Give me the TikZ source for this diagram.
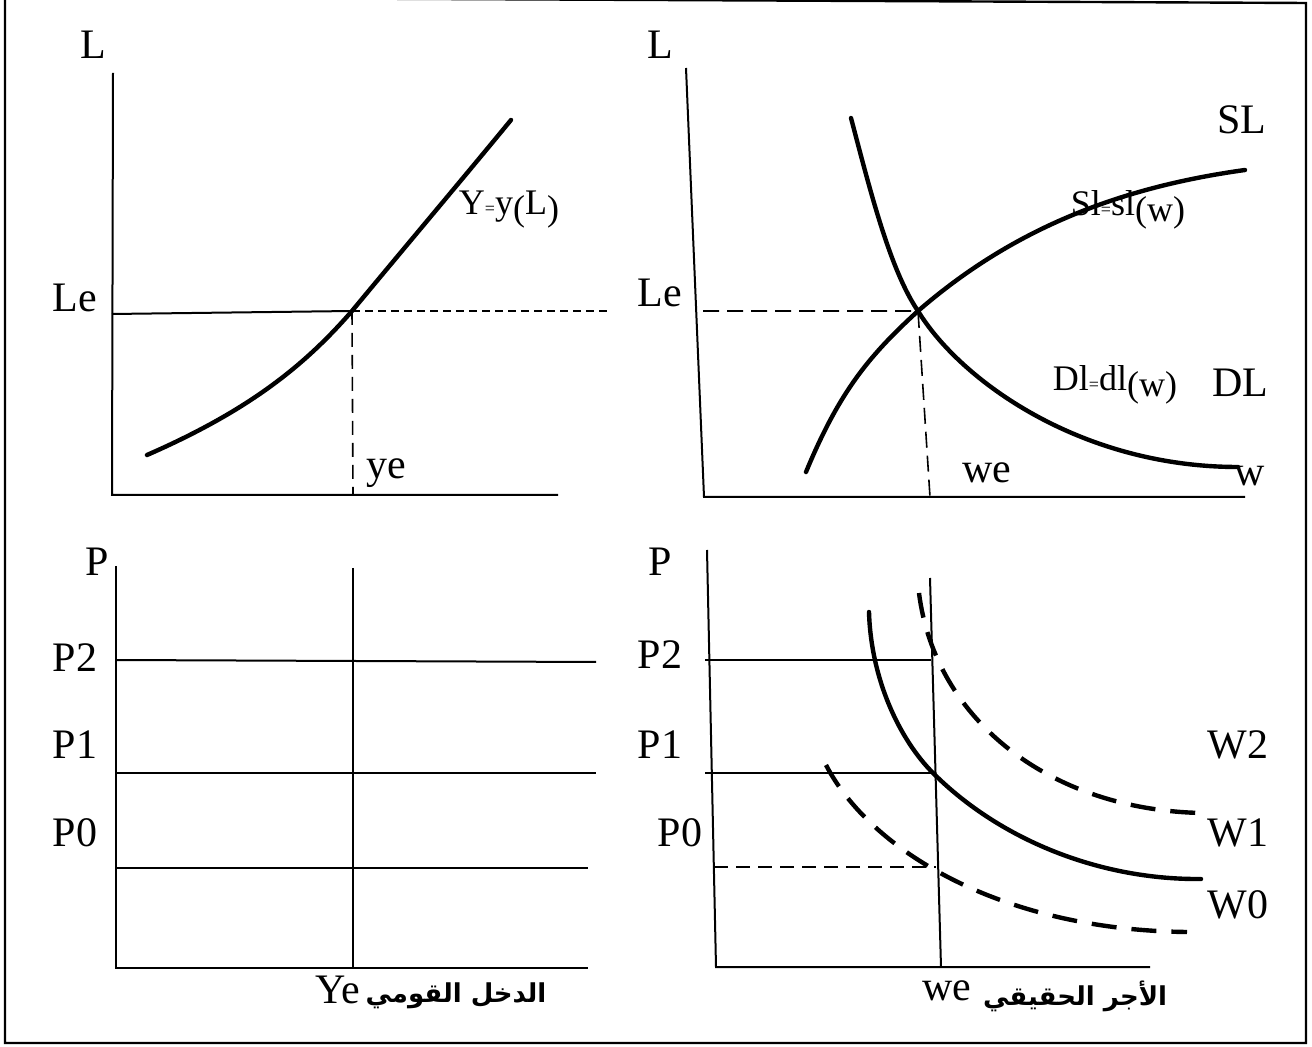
\documentclass[tikz,border=0pt]{standalone}
\usepackage{fontspec}
\setmainfont{Liberation Serif}
\newfontfamily\arabicfont[Script=Arabic]{DejaVu Sans}
\TeXXeTstate=1
\usetikzlibrary{positioning, calc}
\tikzset{
  % thin axis or price line
  axis/.style={line width=1pt},
  % thick curve
  curve/.style={line width=2.2pt, line cap=round},
  curve dashed/.style={line width=2.2pt, dash pattern=on 12.5pt off 7.5pt},
  % thin dashed guide
  guide/.style={line width=0.8pt, dash pattern=on #1},
  guide/.default={4pt off 2.5pt},
  lbl/.style={font=\fontsize{21}{24}\selectfont, inner sep=0pt},
  small lbl/.style={font=\fontsize{18}{20}\selectfont, inner sep=0pt},
  arab/.style={font=\arabicfont\bfseries\fontsize{13}{16}\selectfont, inner sep=0pt},
}
\newcommand{\lowpar}[1]{\raisebox{-3pt}{#1}}

\begin{document}
\begin{tikzpicture}[x=0.5pt, y=-0.5pt]
  \useasboundingbox (0,0) rectangle (1312,1047);
  % frame
  \draw[line width=1.2pt] (5,-3) -- (1306,3) -- (1306,1043) -- (5,1043) -- (5,-3);

  % top left: production
  \coordinate (tl-top) at (113,73);
  \coordinate (tl-o) at (112,495);
  \coordinate (tl-x) at (558,495);
  \coordinate (tl-E) at (352,311);
  \draw[axis] (tl-top) -- (tl-o) -- (tl-x);
  \draw[axis] (112,314) -- (tl-E);
  \draw[guide] (tl-E) -- (610,311);
  \draw[guide={7pt off 4pt}] (tl-E) -- (353,495);
  \draw[curve] (147,455) .. controls (250,410) and (305,365) .. (tl-E)
    .. controls (400,253) and (460,182) .. (511,120);
  \node[lbl] (tl-L) at (93,45) {L};
  \node[lbl] (tl-Le) at (75,298) {Le};
  \node[lbl] (tl-ye) at (386,473) {ye};
  \node[small lbl] (tl-Y) at (509,210) {Y{\small=}y\lowpar{(}L\lowpar{)}};

  % top right: labour market
  \coordinate (tr-top) at (686,68);
  \coordinate (tr-o) at (704,497);
  \coordinate (tr-x) at (1245,497);
  \coordinate (tr-E) at (918,311);
  \draw[axis] (tr-top) -- (tr-o) -- (tr-x);
  \draw[guide={8pt off 4pt}] (703,311) -- (tr-E) -- (930,497);
  \draw[curve] (806,472) .. controls (840,390) and (870,355) .. (tr-E)
    .. controls (1000,240) and (1100,190) .. (1245,170);
  \draw[curve] (851,118) .. controls (870,190) and (890,270) .. (tr-E)
    .. controls (960,380) and (1080,467) .. (1238,467);
  \node[lbl] (tr-L) at (660,45) {L};
  \node[lbl] (tr-Le) at (660,293) {Le};
  \node[lbl] (tr-we) at (987,473) {we};
  \node[lbl] (tr-w) at (1250,476) {w};
  \node[lbl] (tr-SL) at (1242,120) {SL};
  \node[lbl] (tr-DL) at (1240,383) {DL};
  \node[small lbl] (tr-S) at (1128,210) {Sl{\small=}sl\lowpar{(w)}};
  \node[small lbl] (tr-D) at (1115,385) {Dl{\small=}dl\lowpar{(w)}};

  % bottom left: price levels
  \coordinate (bl-top) at (116,566);
  \coordinate (bl-o) at (116,968);
  \coordinate (bl-x) at (588,968);
  \draw[axis] (bl-top) -- (bl-o) -- (bl-x);
  \draw[axis] (353,568) -- (353,968);
  \draw[axis] (116,660) -- (596,662);
  \draw[axis] (116,773) -- (596,773);
  \draw[axis] (116,868) -- (588,868);
  \node[lbl] (bl-P) at (97,562) {P};
  \foreach \t/\y in {P2/658, P1/745, P0/833}
    \node[lbl] (bl-\t) at (75,\y) {\t};
  \node[lbl] (bl-Ye) at (338,990) {Ye};
  \node[arab] (bl-ar) at (456,996) {\beginR الدخل القومي\endR};

  % bottom right: real wage
  \coordinate (br-top) at (707,550);
  \coordinate (br-o) at (716,967);
  \coordinate (br-x) at (1150,967);
  \coordinate (br-we) at (941,967);
  \coordinate (br-E) at (933,773);
  \draw[axis] (br-top) -- (br-o) -- (br-x);
  \draw[axis] (930,578) -- (br-we);
  \draw[axis] (705,660) -- (931,660);
  \draw[axis] (705,773) -- (br-E);
  \draw[guide={7pt off 4pt}] (714,867) -- (936,867);
  \draw[curve dashed] (919,593) .. controls (935,720) and (1050,810) .. (1202,813);
  \draw[curve] (869,612) .. controls (871,680) and (900,740) .. (br-E)
    .. controls (1000,840) and (1100,880) .. (1201,879);
  \draw[curve dashed] (826,765) .. controls (870,850) and (1000,930) .. (1187,932);
  \node[lbl] (br-P) at (660,562) {P};
  \node[lbl] (br-P2) at (660,655) {P2};
  \node[lbl] (br-P1) at (660,745) {P1};
  \node[lbl] (br-P0) at (680,833) {P0};
  \foreach \t/\y in {W2/745, W1/833, W0/905}
    \node[lbl] (br-\t) at (1238,\y) {\t};
  \node[lbl] (br-wel) at (947,991) {we};
  \node[arab] (br-ar) at (1075,996) {\beginR الأجر الحقيقي\endR};
\end{tikzpicture}
\end{document}
